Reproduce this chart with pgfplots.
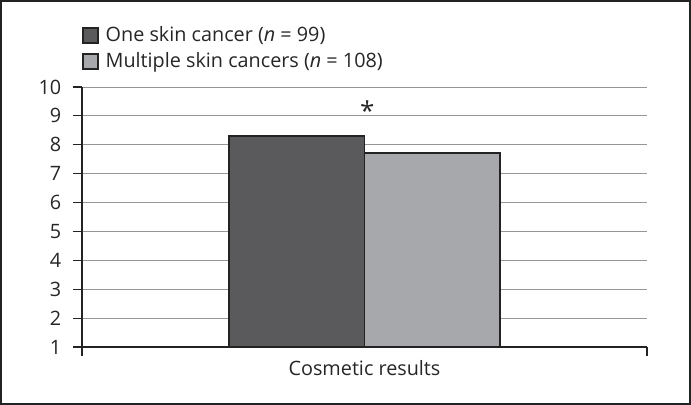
\documentclass[border=0pt]{standalone}
\usepackage{fontspec}
\setmainfont{Open Sans}
\usepackage{pgfplots}
\pgfplotsset{compat=1.18}
\definecolor{darkbar}{RGB}{90,90,92}
\definecolor{lightbar}{RGB}{167,168,172}
\definecolor{edge}{RGB}{35,35,35}
\definecolor{gridc}{RGB}{150,150,150}
\newcommand{\fs}{\fontsize{19.8bp}{22bp}\selectfont}
\begin{document}
\fs
\begin{tikzpicture}
\begin{axis}[
  at={(0,0)}, anchor=south west,
  scale only axis, width=565bp, height=260bp,
  xmin=0, xmax=1, ymin=1, ymax=10,
  ybar, bar width=0.24,
  axis x line*=bottom, axis y line*=left,
  axis line style={-, edge, line width=1.2bp},
  xtick={0,1}, xticklabels={}, 
  ytick={1,...,10},
  tick align=outside,
  major tick length=9bp,
  tick style={edge, line width=1.2bp},
  ymajorgrids, grid style={gridc, line width=1bp},
  /pgf/number format/assume math mode=true,
  ticklabel style={font=\fs, text=black!85},
  yticklabel style={xshift=-5bp},
  xlabel={Cosmetic results},
  xlabel style={at={(rel axis cs:0.5,0)}, anchor=center, yshift=-21bp, font=\fs, text=black!85},
  legend style={at={(rel axis cs:0,1.24)}, anchor=north west, draw=none, fill=none,
    font=\fs, text=black!85,
    row sep=4bp, inner xsep=0pt, inner ysep=0pt,
    nodes={inner xsep=7bp}},
  legend cell align=left,
  legend image code/.code={\draw[#1, draw=edge, line width=1.5bp] (0bp,-7bp) rectangle (15bp,8bp);},
]
\addplot[fill=darkbar, draw=edge, line width=1.5bp, bar shift=-0.12] coordinates {(0.5,8.31)};
\addlegendentry{One skin cancer (\textit{n} = 99)}
\addplot[fill=lightbar, draw=edge, line width=1.5bp, bar shift=0.12] coordinates {(0.5,7.72)};
\addlegendentry{Multiple skin cancers (\textit{n} = 108)}
\node[font=\fontsize{26bp}{28bp}\selectfont, text=black!85] at (axis cs:0.505,9.19) {*};
\end{axis}
\draw[edge, line width=2bp] (-81bp,-57bp) rectangle (608bp,346bp);
\end{tikzpicture}
\end{document}
